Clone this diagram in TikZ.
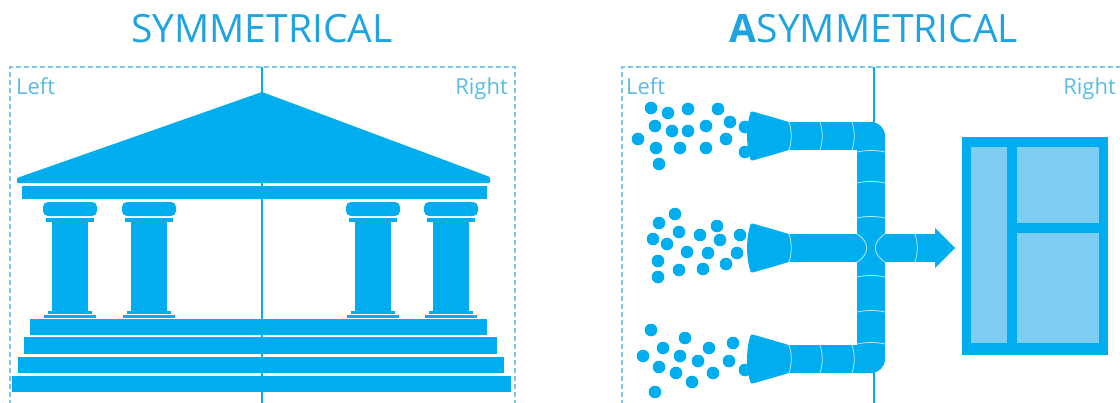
\documentclass[tikz,border=0pt]{standalone}
\usepackage{fontspec}
\setmainfont{Open Sans}
\usetikzlibrary{calc}

\definecolor{pipeblue}{HTML}{00AEEF}
\definecolor{paneblue}{HTML}{7DCEF2}
\definecolor{dashblue}{HTML}{7CC6E8}
\definecolor{titleblue}{HTML}{1FA4DF}
\definecolor{labelblue}{HTML}{5CBAE6}
\definecolor{seamblue}{HTML}{B8E8FA}

\begin{document}
\begin{tikzpicture}[x=1pt, y=-1pt,
    frame line/.style={draw=dashblue, line width=1.1pt, dash pattern=on 5pt off 3pt},
    axis line/.style={draw=pipeblue, line width=1.6pt},
    seam/.style={draw=seamblue, line width=0.8pt},
    heading/.style={text=titleblue, inner sep=0pt, font=\fontsize{39}{39}\selectfont},
    side label/.style={text=labelblue, inner sep=0pt, font=\fontsize{22}{22}\selectfont}]

\useasboundingbox (0,0) rectangle (1120,402);

% headings
\node[heading, anchor=base] (symtitle) at (262,42) {SYMMETRICAL};
\node[heading, anchor=base] (asymtitle) at (874,42) {\textbf{A}SYMMETRICAL};

% dashed frames
\draw[frame line] (10,405) -- (10,67) -- (515,67) -- (515,405);
\draw[frame line] (622,405) -- (622,67) -- (1125,67);

\node[side label, anchor=base west] (symleft) at (16,94) {Left};
\node[side label, anchor=base east] (symright) at (508,94) {Right};
\node[side label, anchor=base west] (asymleft) at (626,94) {Left};
\node[side label, anchor=base east] (asymright) at (1116,94) {Right};

% axes of the two halves
\draw[axis line] (262,67) -- (262,405);
\draw[axis line] (874,67) -- (874,405);

%%% temple %%%
\begin{scope}[fill=pipeblue]
% pediment and architrave
\fill[rounded corners=1pt] (262,92) -- (490,177) -- (490,183) -- (17,183) -- (17,178) -- cycle;
\fill (22,186) rectangle (487,199);

% columns: capital, neck, shaft, base
\foreach \cx in {70,149,373,451} {
  \fill[rounded corners=5pt] (\cx-27,202) rectangle (\cx+27,216);
  \fill (\cx-24,218) rectangle (\cx+24,222);
  \fill (\cx-18,222) rectangle (\cx+18,311);
  \fill (\cx-22,311) rectangle (\cx+22,314);
  \fill (\cx-26,315) rectangle (\cx+26,318);
}

% steps
\foreach \l/\t/\r/\b in {30/319/487/335, 24/337/497/354, 18/357/504/373, 12/376/511/392}
  \fill (\l,\t) rectangle (\r,\b);
\end{scope}

%%% pipes %%%
\begin{scope}[fill=pipeblue]
% elbows, top and bottom
\fill[rounded corners=14pt] (843,122) rectangle (885,150);
\fill[rounded corners=14pt] (843,345) rectangle (885,373);
% straight runs
\fill (786,122) rectangle (857,150);
\fill (786,345) rectangle (857,373);
\fill (857,136) rectangle (885,359);
\fill (786,234) rectangle (937,262);

% outlet arrow head
\fill (935,228) -- (955,248) -- (935,268) -- cycle;

% funnels
\foreach \cy in {136,248,359}
  \fill[rounded corners=2pt] (789,\cy-14) -- (751,\cy-25)
    .. controls (746,\cy-10) and (746,\cy+10) .. (751,\cy+25) -- (789,\cy+14) -- cycle;
\end{scope}

% joints between pipe pieces
\foreach \sx in {789,820,852} {
  \draw[seam] (\sx,122) .. controls (\sx+3,131) and (\sx+3,141) .. (\sx,150);
  \draw[seam] (\sx,345) .. controls (\sx+3,354) and (\sx+3,364) .. (\sx,373);
}
\foreach \sx in {789,915}
  \draw[seam] (\sx,234) .. controls (\sx+3,243) and (\sx+3,253) .. (\sx,262);
\foreach \sy in {152,183,218,277,312,344}
  \draw[seam] (857,\sy) .. controls (866,\sy-2) and (876,\sy-2) .. (885,\sy);
\draw[seam] (857,234) .. controls (870,242) and (870,254) .. (857,262);
\draw[seam] (885,234) .. controls (872,242) and (872,254) .. (885,262);

% particles going into the funnels
\foreach \dx/\dy in {651/108, 668/113, 688/109, 718/109, 730/122, 655/126, 672/131,
    688/131, 706/126, 638/139, 656/148, 680/148, 706/148, 726/139, 745/127, 745/152, 659/164,
    675/214, 659/223, 679/232, 717/226, 653/239, 667/244, 700/235, 720/240, 740/235,
    687/252, 708/253, 737/253, 658/261, 679/270, 703/269, 726/264, 658/277,
    651/330, 685/338, 709/348, 733/343, 643/356, 663/348, 680/356, 698/361, 729/361,
    659/367, 676/373, 713/373, 692/382, 745/370, 655/392}
  \fill[pipeblue] (\dx,\dy) circle[radius=6.3pt];

%%% window %%%
\fill[pipeblue] (962,137) rectangle (1108,355);
\fill[paneblue] (971,147) rectangle (1007,343);
\fill[paneblue] (1017,147) rectangle (1099,223);
\fill[paneblue] (1017,233) rectangle (1099,343);

\end{tikzpicture}
\end{document}
